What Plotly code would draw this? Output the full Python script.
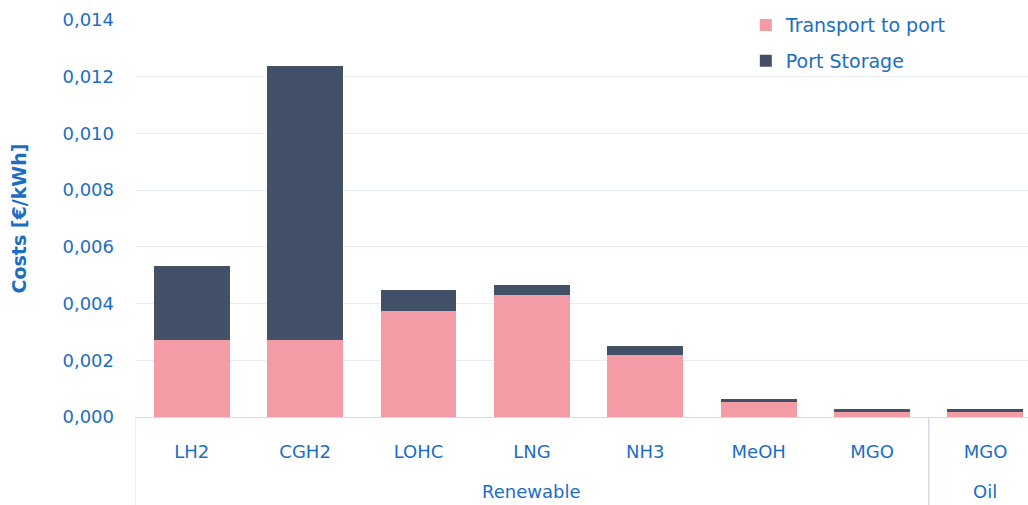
import plotly.graph_objects as go

# Fuel carriers and their origin group
groups = ["Renewable"] * 7 + ["Oil"]
carriers = ["LH2", "CGH2", "LOHC", "LNG", "NH3", "MeOH", "MGO", "MGO"]

# Cost components in €/kWh
transport_to_port = [0.00272, 0.00272, 0.00374, 0.00431, 0.00220, 0.00052, 0.00021, 0.00021]
port_storage = [0.00260, 0.00966, 0.00074, 0.00034, 0.00031, 0.00011, 0.00006, 0.00006]

y_ticks = [0.000, 0.002, 0.004, 0.006, 0.008, 0.010, 0.012, 0.014]

BLUE = "#1c6ec2"
LINE = "#cfdbe8"
FONT = "DejaVu Sans"

pos = list(range(len(carriers)))

fig = go.Figure()
fig.add_trace(go.Bar(
    x=pos, y=transport_to_port, name="Transport to port",
    marker=dict(color="#f49ca6", line=dict(width=0)),
    legendgroup="a",
))
fig.add_trace(go.Bar(
    x=pos, y=port_storage, name="Port Storage",
    marker=dict(color="#435168", line=dict(width=0)),
    legendgroup="b",
))

# Group labels centred under their categories, with dividers at group edges
group_names = []
for g in groups:
    if g not in group_names:
        group_names.append(g)
for g in group_names:
    idx = [i for i, gg in enumerate(groups) if gg == g]
    fig.add_annotation(
        x=(idx[0] + idx[-1]) / 2, y=0, xref="x", yref="paper",
        yshift=-87, text=g, showarrow=False,
        font=dict(size=18, color=BLUE, family=FONT),
    )
    for edge in (idx[0] - 0.5, idx[-1] + 0.5):
        fig.add_shape(
            type="line", xref="x", yref="paper",
            x0=edge, x1=edge, y0=0, y1=-0.23,
            line=dict(color=LINE, width=1),
        )

fig.update_layout(
    width=1028, height=505,
    margin=dict(l=135, r=0, t=20, b=88),
    barmode="stack",
    bargap=0.33,
    separators=",.",
    plot_bgcolor="white",
    paper_bgcolor="white",
    font=dict(family=FONT, color=BLUE, size=18),
    showlegend=True,
    legend=dict(
        x=0.684, y=1.035, xanchor="left", yanchor="top",
        traceorder="grouped", tracegroupgap=8,
        font=dict(size=19, color=BLUE),
        bgcolor="rgba(0,0,0,0)",
        itemsizing="constant",
        itemwidth=30,
    ),
)

fig.update_xaxes(
    range=[-0.5, 7.375],
    tickvals=pos,
    ticktext=carriers,
    tickfont=dict(size=18, color=BLUE),
    ticklabelstandoff=22,
    showline=False,
    showgrid=False,
    zeroline=False,
    ticks="",
)

fig.update_yaxes(
    range=[0, 0.014],
    tickvals=y_ticks,
    tickformat=".3f",
    tickfont=dict(size=18, color=BLUE),
    showgrid=True,
    gridcolor="#e6edf5",
    gridwidth=1,
    zeroline=True,
    zerolinecolor=LINE,
    zerolinewidth=1,
    ticks="",
    ticklabelstandoff=20,
    title=dict(
        text="<b>Costs [€/kWh]</b>",
        font=dict(size=19, color=BLUE),
        standoff=30,
    ),
)

fig.write_html("out.html")
